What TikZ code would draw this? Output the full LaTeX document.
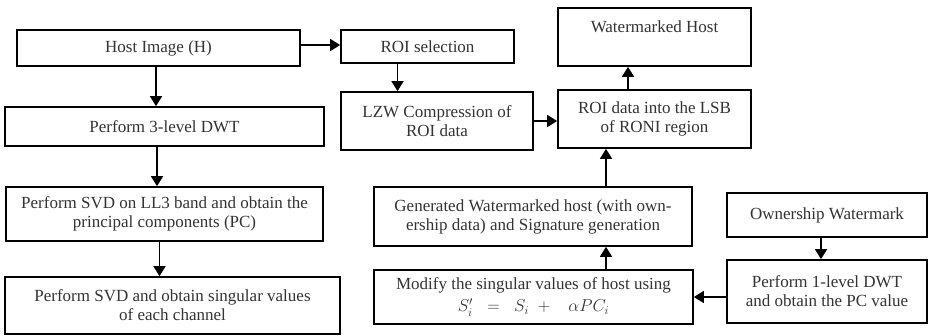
\documentclass[tikz,border=0pt]{standalone}
\usepackage{fontspec}
\setmainfont{Liberation Serif}
\usetikzlibrary{arrows.meta}
\tikzset{
  box/.style={draw=black, line width=1.7pt, fill=white, align=center, inner sep=0pt,
    text=black!80, font=\fontsize{17}{19}\selectfont},
  arr/.style={line width=1.6pt, draw=black, -{Triangle[length=10pt,width=12pt]}}
}
\begin{document}
\begin{tikzpicture}[x=1pt,y=-1pt]
\useasboundingbox (0,0) rectangle (928,335);
\node[box, minimum width=283pt, minimum height=36pt] (host) at (158.5,48) {Host Image (H)};
\node[box, minimum width=319pt, minimum height=39pt] (dwt3) at (164.5,126.5) {Perform 3-level DWT};
\node[box, minimum width=317pt, minimum height=54pt] (svd) at (164.5,214) {Perform SVD on LL3 band and obtain the\\principal components (PC)};
\node[box, minimum width=335pt, minimum height=57pt] (sing) at (172.5,305.5) {Perform SVD and obtain singular values\\of each channel};
\node[box, minimum width=173pt, minimum height=33pt] (roisel) at (427.5,46.5) {ROI selection};
\node[box, minimum width=192pt, minimum height=58pt] (lzw) at (437,121) {LZW Compression of\\ROI data};
\node[box, minimum width=193pt, minimum height=58pt] (wmhost) at (654.5,37) {};
\node[text=black!80, font=\fontsize{17}{19}\selectfont] (wmtext) at (654.5,27) {Watermarked Host};
\node[box, minimum width=193pt, minimum height=58pt] (roidata) at (654.5,119) {ROI data into the LSB\\of RONI region};
\node[box, minimum width=318pt, minimum height=59pt] (gen) at (533,216.5) {Generated Watermarked host (with own-\\ership data) and Signature generation};
\node[box, minimum width=319pt, minimum height=54pt] (modify) at (533.5,297) {Modify the singular values of host using\\[3pt]$S_i' \;\;=\;\; S_i \;+\;\;\; \alpha PC_i$};
\node[box, minimum width=200pt, minimum height=44pt] (own) at (827,215) {Ownership Watermark};
\node[box, minimum width=200pt, minimum height=63pt] (dwt1) at (827,291.5) {Perform 1-level DWT\\and obtain the PC value};

\draw[arr] ([xshift=-2.5pt]host.south) -- ([xshift=-2.5pt]host.south |- dwt3.north);
\draw[arr] ([xshift=-7.5pt]dwt3.south) -- ([xshift=-7.5pt]dwt3.south |- svd.north);
\draw[arr] ([xshift=-5pt]svd.south) -- ([xshift=-5pt]svd.south |- sing.north);
\draw[arr] ([yshift=3pt]host.east) -- ([yshift=3pt]host.east -| roisel.west);
\draw[arr] ([xshift=-30pt]roisel.south) -- ([xshift=-30pt]roisel.south |- lzw.north);
\draw[arr] (lzw.east) -- (lzw.east -| roidata.west);
\draw[arr] ([xshift=-26.5pt]roidata.north) -- ([xshift=-26.5pt]roidata.north |- wmhost.south);
\draw[arr] ([xshift=73pt]gen.north) -- ([xshift=73pt]gen.north |- roidata.south);
\draw[arr] ([xshift=72.5pt]modify.north) -- ([xshift=72.5pt]modify.north |- gen.south);
\draw[arr] ([xshift=-6pt]own.south) -- ([xshift=-6pt]own.south |- dwt1.north);
\draw[arr] (dwt1.west |- modify.east) -- (modify.east);
\end{tikzpicture}
\end{document}
